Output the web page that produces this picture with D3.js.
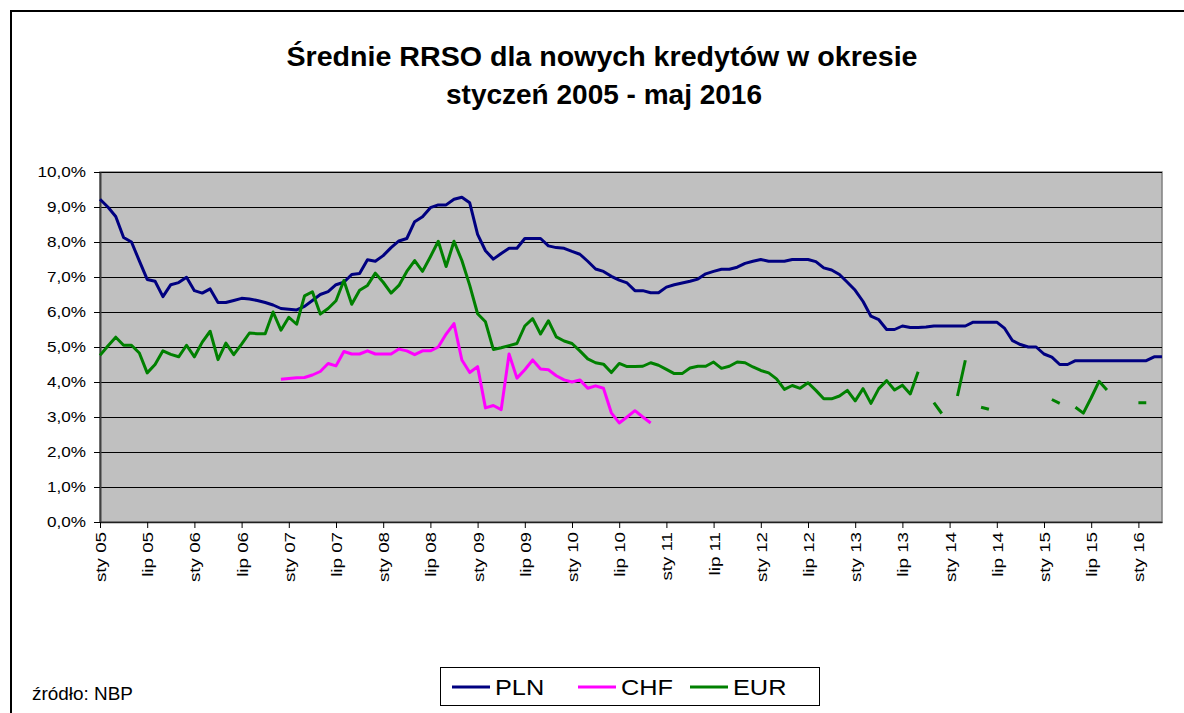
<!DOCTYPE html>
<html>
<head>
<meta charset="utf-8">
<script src="https://cdn.jsdelivr.net/npm/d3@7"></script>
<style>
  body { margin: 0; background: #fff; }
  svg { display: block; font-family: "Liberation Sans", Arial, sans-serif; }
</style>
</head>
<body>
<svg id="chart" width="1184" height="713"></svg>
<script>
// months Jan 2005 .. Apr 2016 (one point per month)
const monthNames = ["sty", "lut", "mar", "kwi", "maj", "cze", "lip", "sie", "wrz", "paź", "lis", "gru"];
const years = ["05", "06", "07", "08", "09", "10", "11", "12", "13", "14", "15", "16"];
const months = [];
years.forEach(yr => monthNames.forEach(m => { if (months.length < 136) months.push(m + " " + yr); }));

const tickLabels = months.filter(m => m.startsWith("sty") || m.startsWith("lip"));
const yTicks = [0, 1, 2, 3, 4, 5, 6, 7, 8, 9, 10];

const pln = [
  9.22, 9.0, 8.73, 8.13, 8.0, 7.46, 6.93, 6.88, 6.44, 6.78,
  6.84, 6.99, 6.61, 6.54, 6.66, 6.27, 6.27, 6.33, 6.39, 6.37,
  6.33, 6.27, 6.2, 6.1, 6.08, 6.06, 6.16, 6.33, 6.5, 6.58,
  6.78, 6.85, 7.07, 7.1, 7.49, 7.45, 7.61, 7.84, 8.03, 8.1,
  8.58, 8.72, 8.98, 9.06, 9.06, 9.22, 9.28, 9.12, 8.22, 7.75,
  7.51, 7.67, 7.82, 7.82, 8.1, 8.1, 8.1, 7.89, 7.84, 7.82,
  7.73, 7.65, 7.45, 7.23, 7.16, 7.02, 6.91, 6.83, 6.61, 6.61,
  6.55, 6.55, 6.71, 6.78, 6.83, 6.88, 6.94, 7.09, 7.16, 7.22,
  7.22, 7.28, 7.39, 7.45, 7.5, 7.45, 7.45, 7.45, 7.5, 7.5,
  7.5, 7.44, 7.26, 7.2, 7.07, 6.85, 6.62, 6.3, 5.88, 5.78,
  5.5, 5.5, 5.6, 5.56, 5.56, 5.57, 5.6, 5.6, 5.6, 5.6,
  5.6, 5.71, 5.71, 5.71, 5.71, 5.53, 5.18, 5.07, 5.0, 5.0,
  4.8, 4.71, 4.5, 4.5, 4.61, 4.61, 4.61, 4.61, 4.61, 4.61,
  4.61, 4.61, 4.61, 4.61, 4.72, 4.72
];

const chf = [
  null, null, null, null, null, null, null, null, null, null,
  null, null, null, null, null, null, null, null, null, null,
  null, null, null, 4.08, 4.1, 4.12, 4.13, 4.2, 4.3, 4.53,
  4.46, 4.87, 4.8, 4.8, 4.89, 4.8, 4.8, 4.8, 4.94, 4.89,
  4.78, 4.89, 4.89, 5.0, 5.37, 5.67, 4.63, 4.27, 4.44, 3.26,
  3.33, 3.21, 4.8, 4.11, 4.35, 4.63, 4.37, 4.35, 4.18, 4.06,
  4.0, 4.06, 3.82, 3.89, 3.82, 3.12, 2.83, 3.0, 3.18, 3.0,
  2.83
];

const eur = [
  4.76, 5.03, 5.28, 5.05, 5.05, 4.83, 4.26, 4.5, 4.89, 4.79,
  4.72, 5.05, 4.72, 5.14, 5.45, 4.64, 5.11, 4.78, 5.08, 5.4,
  5.38, 5.38, 6.0, 5.48, 5.85, 5.65, 6.46, 6.58, 5.94, 6.1,
  6.32, 6.9, 6.22, 6.62, 6.76, 7.11, 6.85, 6.54, 6.76, 7.16,
  7.47, 7.16, 7.58, 8.02, 7.3, 8.02, 7.47, 6.76, 5.95, 5.72,
  4.93, 4.98, 5.04, 5.1, 5.6, 5.81, 5.37, 5.75, 5.29, 5.17,
  5.1, 4.89, 4.66, 4.55, 4.51, 4.27, 4.53, 4.44, 4.44, 4.45,
  4.55, 4.48, 4.36, 4.24, 4.24, 4.4, 4.45, 4.45, 4.57, 4.39,
  4.45, 4.57, 4.55, 4.43, 4.33, 4.26, 4.09, 3.79, 3.9, 3.82,
  3.98, 3.76, 3.52, 3.52, 3.6, 3.76, 3.46, 3.81, 3.39, 3.81,
  4.04, 3.77, 3.91, 3.66, 4.29, null, 3.41, 3.1, null, 3.6,
  4.62, null, 3.28, 3.22, null, null, null, null, null, null,
  null, 3.5, 3.39, null, 3.28, 3.11, 3.55, 4.02, 3.77, null,
  null, null, 3.41, 3.41, null, null
];

const seriesNames = ["PLN", "CHF", "EUR"];
const seriesColors = ["#000080", "#ff00ff", "#008000"];
const seriesValues = [pln, chf, eur];

const svg = d3.select("#chart");
const plot = { left: 100, right: 1162, top: 172, bottom: 522 };

const x = d3.scalePoint().domain(months).range([plot.left, plot.right]);
const y = d3.scaleLinear().domain([0, 10]).range([plot.bottom, plot.top]);

// stretch text horizontally so it fills the same space as in the original
function stretch(sel, k) {
  sel.each(function () {
    const w = this.getComputedTextLength();
    d3.select(this).attr("textLength", w * k).attr("lengthAdjust", "spacingAndGlyphs");
  });
}

// outer frame
svg.append("rect")
  .attr("x", 11).attr("y", 11)
  .attr("width", 1200).attr("height", 760)
  .attr("fill", "none").attr("stroke", "#000").attr("stroke-width", 2);

// title
const title = svg.append("g").attr("font-weight", "bold").attr("font-size", 27).attr("text-anchor", "middle");
title.append("text").attr("x", 602).attr("y", 66).text("Średnie RRSO dla nowych kredytów w okresie")
  .attr("textLength", 631).attr("lengthAdjust", "spacingAndGlyphs");
title.append("text").attr("x", 604).attr("y", 104).text("styczeń 2005 - maj 2016")
  .attr("textLength", 316).attr("lengthAdjust", "spacingAndGlyphs");

// plot background
svg.append("rect")
  .attr("x", plot.left).attr("y", plot.top)
  .attr("width", plot.right - plot.left).attr("height", plot.bottom - plot.top)
  .attr("fill", "#c0c0c0").attr("stroke", "#808080").attr("stroke-width", 1.5);

// gridlines
svg.append("g")
  .selectAll("line")
  .data(yTicks.filter(d => d > 0))
  .join("line")
  .attr("x1", plot.left).attr("x2", plot.right)
  .attr("y1", d => y(d) + 0.5).attr("y2", d => y(d) + 0.5)
  .attr("stroke", "#000").attr("stroke-width", 1);

// y axis
const yAxis = svg.append("g")
  .attr("transform", `translate(${plot.left},0)`)
  .call(d3.axisLeft(y).tickValues(yTicks).tickSize(6).tickSizeOuter(0)
    .tickFormat(d => d.toFixed(1).replace(".", ",") + "%"));
yAxis.select(".domain").attr("stroke", "#404040").attr("stroke-width", 2);
yAxis.selectAll(".tick line").attr("stroke", "#000");
yAxis.selectAll(".tick text")
  .attr("x", -14).attr("font-size", 14.5).attr("fill", "#000").attr("font-family", null)
  .call(stretch, 1.18);

// x axis
const xAxis = svg.append("g")
  .attr("transform", `translate(0,${plot.bottom})`)
  .call(d3.axisBottom(x).tickValues(tickLabels).tickSize(6).tickSizeOuter(0));
xAxis.select(".domain").attr("stroke", "#202020").attr("stroke-width", 1.5);
xAxis.selectAll(".tick line").attr("stroke", "#000");
xAxis.selectAll(".tick text")
  .attr("transform", "rotate(-90)")
  .attr("text-anchor", "end")
  .attr("x", -10).attr("y", 0).attr("dy", "0.36em")
  .attr("font-size", 15).attr("fill", "#000").attr("font-family", null)
  .call(stretch, 1.25);

// series lines
const line = d3.line()
  .defined(d => d != null)
  .x((d, i) => x(months[i]))
  .y(d => y(d));

svg.append("g")
  .selectAll("path")
  .data(seriesValues)
  .join("path")
  .attr("d", line)
  .attr("fill", "none")
  .attr("stroke", (d, i) => seriesColors[i])
  .attr("stroke-width", 3)
  .attr("stroke-linejoin", "round");

// legend
const legend = svg.append("g");
legend.append("rect")
  .attr("x", 440.5).attr("y", 667.5).attr("width", 379).attr("height", 38)
  .attr("fill", "#fff").attr("stroke", "#000").attr("stroke-width", 1);
const legendX = [452, 578, 690];
const item = legend.selectAll("g.item")
  .data(seriesNames)
  .join("g").attr("class", "item")
  .attr("transform", (d, i) => `translate(${legendX[i]},687)`);
item.append("line")
  .attr("x1", 0).attr("x2", 38)
  .attr("stroke", (d, i) => seriesColors[i]).attr("stroke-width", 3);
item.append("text")
  .attr("x", 43).attr("y", 8)
  .attr("font-size", 22)
  .text(d => d)
  .call(stretch, 1.15);

// source
svg.append("text")
  .attr("x", 32).attr("y", 700)
  .attr("font-size", 18)
  .text("źródło: NBP")
  .call(stretch, 1.05);
</script>
</body>
</html>
